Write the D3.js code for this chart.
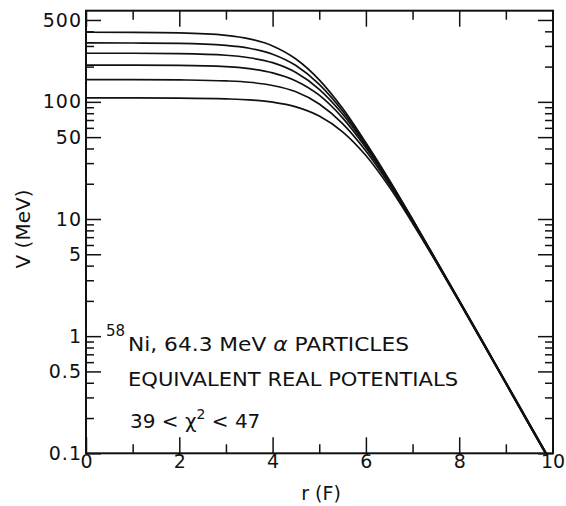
<!DOCTYPE html>
<html><head><meta charset="utf-8">
<script src="https://cdn.jsdelivr.net/npm/d3@7"></script>
<style>body{margin:0;background:#fff}svg{display:block}text{font-family:"DejaVu Sans",sans-serif;fill:#111}</style>
</head><body><svg id="c" width="566" height="506"></svg>
<script>
// ---- data ----
const rValues = [0, 1, 2, 3, 3.5, 4, 4.5, 5, 5.5, 6, 6.5, 7, 7.5, 8, 8.5, 9, 9.5, 9.9];
const curveA = [393, 392, 388, 370, 345, 300, 232, 154, 88, 44.7, 21.6, 9.95, 4.5, 2.03, 0.91, 0.405, 0.181, 0.095];
const curveB = [319, 318, 316, 304, 287, 255, 204, 141, 83.5, 43.6, 21.3, 9.85, 4.47, 2.01, 0.90, 0.402, 0.179, 0.094];
const curveC = [260, 260, 258, 250, 238, 216, 178, 128, 78.7, 42.2, 20.9, 9.75, 4.44, 2.0, 0.895, 0.399, 0.178, 0.0935];
const curveD = [206, 206, 205, 200, 192, 177, 151, 114, 73, 40.6, 20.4, 9.62, 4.41, 1.99, 0.89, 0.397, 0.177, 0.093];
const curveE = [155, 155, 154, 151, 147, 138, 122, 96, 65.3, 38.1, 19.8, 9.45, 4.36, 1.975, 0.886, 0.395, 0.176, 0.0925];
const curveF = [108, 108, 107.6, 106, 104, 99.5, 90.7, 75.7, 55.5, 34.8, 18.8, 9.2, 4.31, 1.96, 0.88, 0.393, 0.175, 0.092];
const seriesList = [curveA, curveB, curveC, curveD, curveE, curveF];

const xMajorTicks = [0, 2, 4, 6, 8, 10];
const xMinorTicks = [1, 3, 5, 7, 9];
const xTickLabels = ["0", "2", "4", "6", "8", "10"];
const yMajorTicks = [0.1, 0.5, 1, 5, 10, 50, 100, 500];
const yMinorTicks = [0.2, 0.3, 0.4, 0.6, 0.7, 0.8, 0.9, 2, 3, 4, 6, 7, 8, 9, 20, 30, 40, 60, 70, 80, 90, 200, 300, 400];
const yTickLabels = ["0.1", "0.5", "1", "5", "10", "50", "100", "500"];
const xTitle = "r (F)";
const yTitle = "V (MeV)";

// ---- layout ----
const L = 86, R = 553, T = 10.7, B = 453.3;
const svg = d3.select("#c");
const x = d3.scaleLinear().domain([0, 10]).range([L, 552.5]);
const y = d3.scaleLog().domain([0.1, 600]).range([B, T]);

svg.append("clipPath").attr("id", "clip").append("rect")
  .attr("x", L).attr("y", T).attr("width", R - L).attr("height", B - T);

// curves
const line = d3.line().x((d, i) => x(rValues[i])).y(d => y(d)).curve(d3.curveMonotoneX);
svg.append("g").attr("clip-path", "url(#clip)").selectAll("path").data(seriesList).join("path")
  .attr("d", d => line(d)).attr("fill", "none").attr("stroke", "#111").attr("stroke-width", 1.7);

function styleAxis(g) {
  g.select(".domain").remove();
  g.selectAll(".tick line").attr("stroke", "#111").attr("stroke-width", 1.5);
}
// inward ticks
svg.append("g").attr("transform", `translate(${L},0)`).call(d3.axisRight(y).tickValues(yMajorTicks).tickSize(15).tickFormat("")).call(styleAxis);
svg.append("g").attr("transform", `translate(${L},0)`).call(d3.axisRight(y).tickValues(yMinorTicks).tickSize(8).tickFormat("")).call(styleAxis);
svg.append("g").attr("transform", `translate(${R},0)`).call(d3.axisLeft(y).tickValues(yMajorTicks).tickSize(15).tickFormat("")).call(styleAxis);
svg.append("g").attr("transform", `translate(${R},0)`).call(d3.axisLeft(y).tickValues(yMinorTicks).tickSize(8).tickFormat("")).call(styleAxis);
svg.append("g").attr("transform", `translate(0,${B})`).call(d3.axisTop(x).tickValues(xMajorTicks).tickSize(16).tickFormat("")).call(styleAxis);
svg.append("g").attr("transform", `translate(0,${B})`).call(d3.axisTop(x).tickValues(xMinorTicks).tickSize(9).tickFormat("")).call(styleAxis);
svg.append("g").attr("transform", `translate(0,${T})`).call(d3.axisBottom(x).tickValues(xMajorTicks).tickSize(16).tickFormat("")).call(styleAxis);
svg.append("g").attr("transform", `translate(0,${T})`).call(d3.axisBottom(x).tickValues(xMinorTicks).tickSize(9).tickFormat("")).call(styleAxis);

// tick labels
const yl = svg.append("g").attr("transform", `translate(${L - 4},0)`)
  .call(d3.axisLeft(y).tickValues(yMajorTicks).tickSize(0).tickPadding(0).tickFormat((d, i) => yTickLabels[i]));
yl.select(".domain").remove();
yl.selectAll("text").attr("font-size", 19).attr("font-family", "DejaVu Sans").attr("fill", "#111").attr("letter-spacing", 1);
const xl = svg.append("g").attr("transform", `translate(0,${B})`)
  .call(d3.axisBottom(x).tickValues(xMajorTicks).tickSize(0).tickPadding(1).tickFormat((d, i) => xTickLabels[i]));
xl.select(".domain").remove();
xl.selectAll("text").attr("font-size", 19).attr("font-family", "DejaVu Sans").attr("fill", "#111");

// frame
svg.append("rect").attr("x", L).attr("y", T).attr("width", R - L).attr("height", B - T)
  .attr("fill", "none").attr("stroke", "#111").attr("stroke-width", 2);

// titles
svg.append("text").attr("x", 321).attr("y", 500).attr("text-anchor", "middle").attr("font-size", 19).text(xTitle);
svg.append("text").attr("transform", "translate(30,229) rotate(-90)").attr("text-anchor", "middle").attr("font-size", 20).text(yTitle);

// annotation
svg.append("text").attr("x", 106).attr("y", 336).attr("font-size", 15).text("58");
const t1 = svg.append("text").attr("x", 128).attr("y", 351).attr("font-size", 20)
  .attr("textLength", 281).attr("lengthAdjust", "spacingAndGlyphs");
t1.append("tspan").text("Ni, 64.3 MeV ");
t1.append("tspan").attr("font-style", "italic").text("α");
t1.append("tspan").text(" PARTICLES");
svg.append("text").attr("x", 128).attr("y", 386).attr("font-size", 20)
  .attr("textLength", 330).attr("lengthAdjust", "spacingAndGlyphs").text("EQUIVALENT REAL POTENTIALS");
const t3 = svg.append("text").attr("x", 130).attr("y", 428).attr("font-size", 20);
t3.append("tspan").text("39 < χ");
t3.append("tspan").attr("dy", -9).attr("font-size", 14).text("2");
t3.append("tspan").attr("dy", 9).text(" < 47");
</script></body></html>
